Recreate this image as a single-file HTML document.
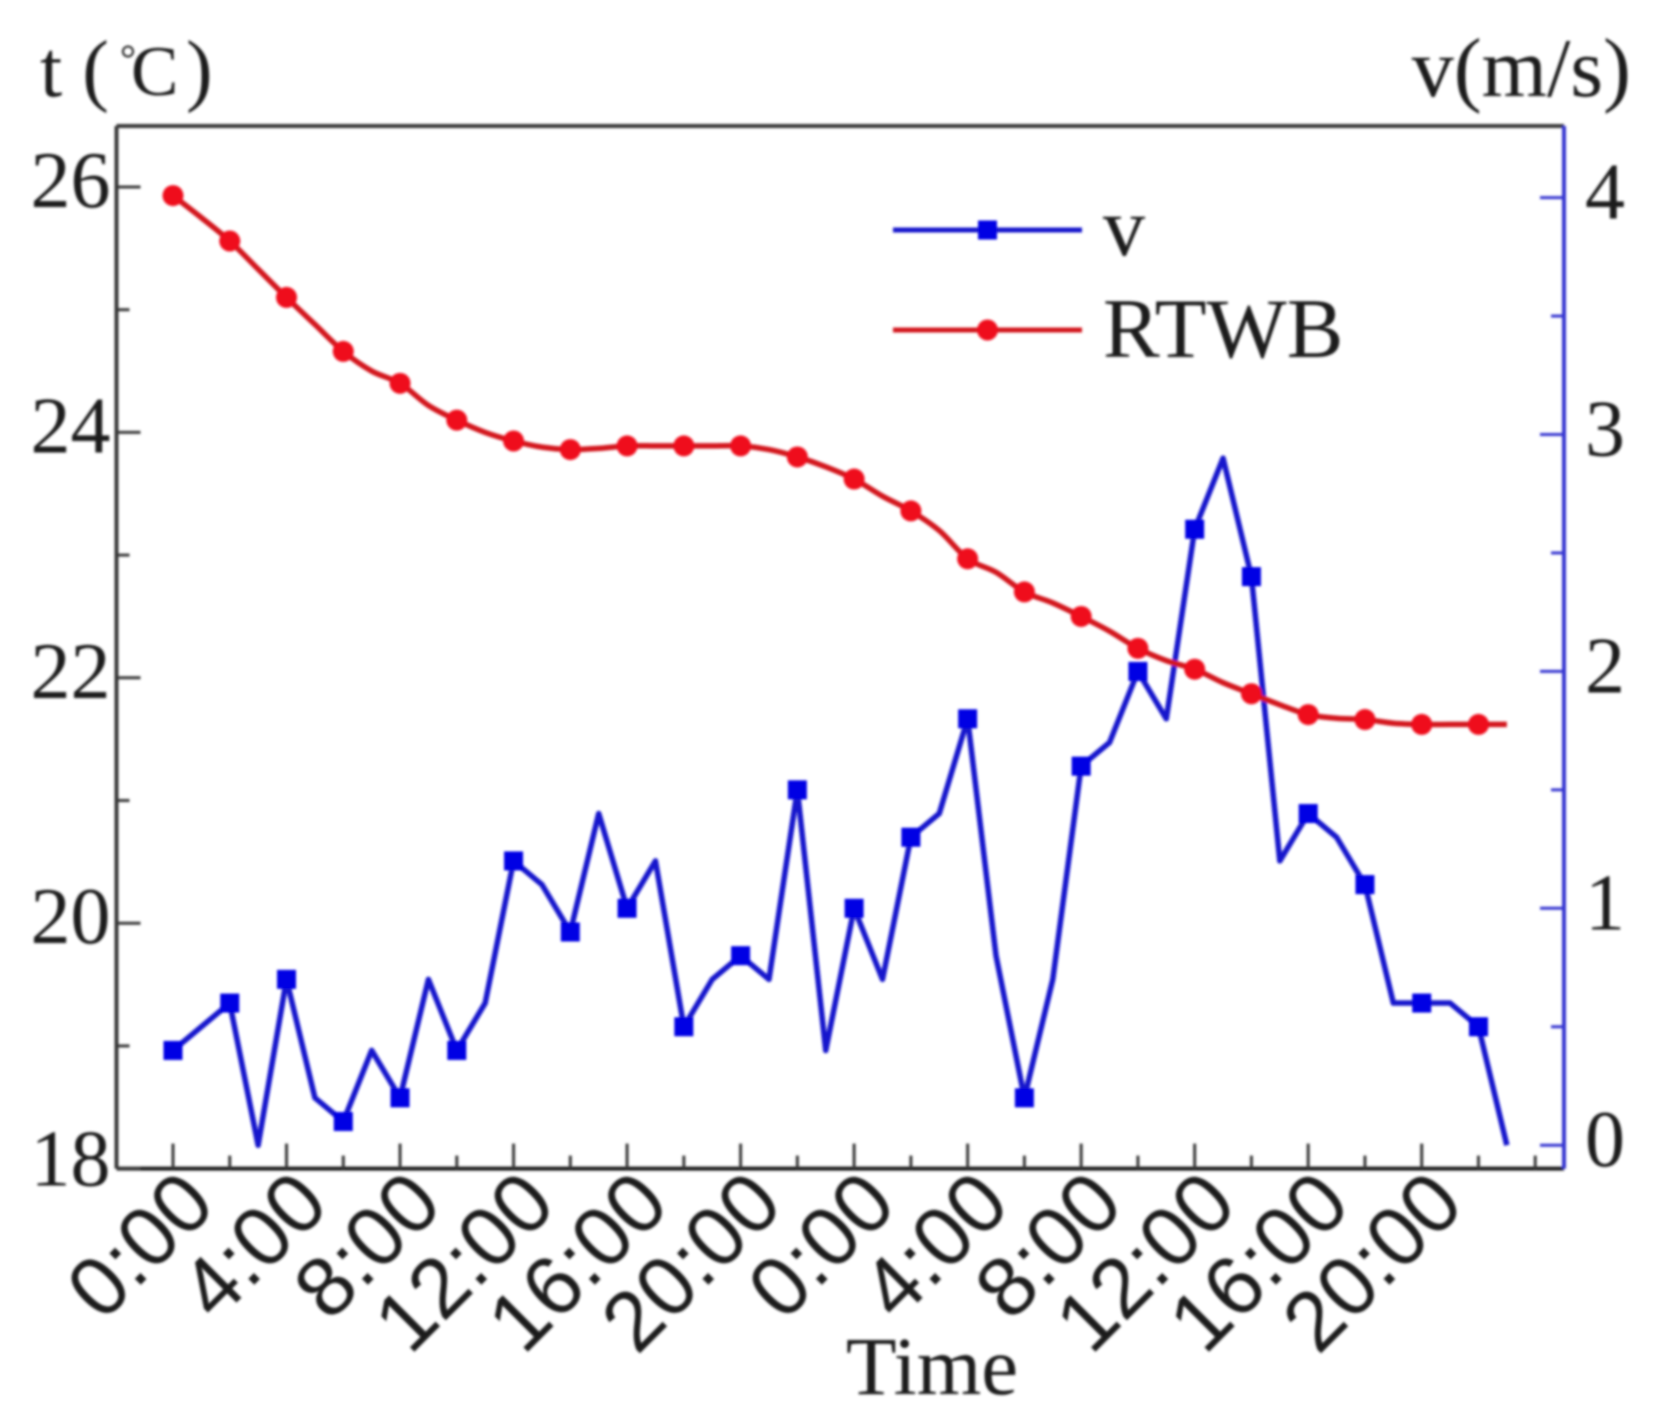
<!DOCTYPE html>
<html lang="en">
<head>
<meta charset="utf-8">
<title>RTWB and v over time</title>
<style>
html,body{margin:0;padding:0;background:#fff;}
svg{display:block;}
text{font-family:"Liberation Serif","Noto Serif CJK SC",serif;fill:#1c1c1c;}
.sans{font-family:"Liberation Sans",sans-serif;}
</style>
</head>
<body>
<svg id="chart" xmlns="http://www.w3.org/2000/svg" width="1665" height="1420" viewBox="0 0 1665 1420">
  <defs><filter id="soft" x="-2%" y="-2%" width="104%" height="104%"><feGaussianBlur stdDeviation="1.3"/></filter></defs>
  <g id="root" filter="url(#soft)"></g>
</svg>
<script>
const hours = [0,1,2,3,4,5,6,7,8,9,10,11,12,13,14,15,16,17,18,19,20,21,22,23,24,25,26,27,28,29,30,31,32,33,34,35,36,37,38,39,40,41,42,43,44,45,46,47];
const windSpeed = [0.4,0.5,0.6,0,0.7,0.2,0.1,0.4,0.2,0.7,0.4,0.6,1.2,1.1,0.9,1.4,1.0,1.2,0.5,0.7,0.8,0.7,1.5,0.4,1.0,0.7,1.3,1.4,1.8,0.8,0.2,0.7,1.6,1.7,2.0,1.8,2.6,2.9,2.4,1.2,1.4,1.3,1.1,0.6,0.6,0.6,0.5,0];
const rtwb = [25.93,25.75,25.56,25.33,25.10,24.88,24.66,24.50,24.40,24.22,24.10,24.00,23.93,23.88,23.86,23.87,23.89,23.89,23.89,23.89,23.89,23.86,23.80,23.72,23.62,23.48,23.36,23.20,22.97,22.86,22.70,22.61,22.50,22.38,22.24,22.14,22.07,21.96,21.87,21.78,21.70,21.67,21.66,21.63,21.62,21.62,21.62,21.62];
const xTickLabels = ["0:00","4:00","8:00","12:00","16:00","20:00","0:00","4:00","8:00","12:00","16:00","20:00"];
const leftTicks = ["18","20","22","24","26"];
const rightTicks = ["0","1","2","3","4"];

const plot = {l:116.5, r:1564, t:126, b:1168.6};
const NS = "http://www.w3.org/2000/svg";
const root = document.getElementById("root");
const xScale = h => 173 + h * 28.38;
const yLeft = t => 187 + (26 - t) * 122.7;
const yRight = v => 1145.2 - v * 236.9;

function make(tag, attrs, text){
  const el = document.createElementNS(NS, tag);
  for (const k in attrs) el.setAttribute(k, attrs[k]);
  if (text !== undefined) el.textContent = text;
  root.appendChild(el);
  return el;
}

const AXIS = "#383838", RAXIS = "#3434d0", BLUE = "#1212cc", RED = "#ef0f1e";

/* frame */
let el = make("line",{x1:plot.l,y1:plot.t,x2:plot.r,y2:plot.t,stroke:AXIS,"stroke-width":4});


el = make("line",{x1:plot.l,y1:plot.t,x2:plot.l,y2:plot.b,stroke:AXIS,"stroke-width":4});


el = make("line",{x1:plot.l,y1:plot.b,x2:plot.r,y2:plot.b,stroke:"#1c1c1c","stroke-width":4});


el = make("line",{x1:plot.r,y1:plot.t,x2:plot.r,y2:plot.b,stroke:RAXIS,"stroke-width":4});



/* x ticks: one every two hours, labelled every four */
for (let h = 0; h <= 48; h += 2) {
  const major = h % 4 === 0 && h / 4 < xTickLabels.length;
  const x = xScale(h);
  const t = make("line",{x1:x,y1:plot.b,x2:x,y2:plot.b-(major?25:13),stroke:AXIS,"stroke-width":3});
  
  
  if (major) {
    const lx = x + 45, ly = plot.b + 39;
    const lab = make("text",{x:lx,y:ly,"font-size":84,"text-anchor":"end","class":"sans",transform:"rotate(-45 "+lx+" "+ly+")"},xTickLabels[h/4]);
    
    
  }
}

/* left axis */
leftTicks.forEach(s => {
  const v = +s, y = yLeft(v);
  const t = make("line",{x1:plot.l,y1:y,x2:plot.l+24,y2:y,stroke:AXIS,"stroke-width":3});
  
  
  if (v < 26) {
    const m = make("line",{x1:plot.l,y1:yLeft(v+1),x2:plot.l+13,y2:yLeft(v+1),stroke:AXIS,"stroke-width":3});
    
    
  }
  const lab = make("text",{x:plot.l-6,y:y+(v===18?17:20),"font-size":80,"text-anchor":"end"},s);
  
  
});

/* right axis */
rightTicks.forEach(s => {
  const v = +s, y = yRight(v);
  const t = make("line",{x1:plot.r,y1:y,x2:plot.r-24,y2:y,stroke:RAXIS,"stroke-width":3});
  
  
  if (v < 4) {
    const m = make("line",{x1:plot.r,y1:yRight(v+0.5),x2:plot.r-13,y2:yRight(v+0.5),stroke:RAXIS,"stroke-width":3});
    
    
  }
  const lab = make("text",{x:plot.r+21,y:y+21,"font-size":80},s);
  
  
});

/* titles */
el = make("text",{x:40,y:96,"font-size":80},"t (");


el = make("text",{x:120,y:72,"font-size":40},"°");


el = make("text",{x:131,y:95,"font-size":71},"C");


el = make("text",{x:186,y:96,"font-size":80},")");


el = make("text",{x:1631,y:96,"font-size":84,"text-anchor":"end"},"v(m/s)");


el = make("text",{x:932,y:1394,"font-size":83,"text-anchor":"middle"},"Time");



/* series */
const bluePts = hours.map((h,i) => [xScale(h), yRight(windSpeed[i])]);
el = make("polyline",{points:bluePts.map(p=>p.join(",")).join(" "),fill:"none",stroke:BLUE,"stroke-width":5.5,"stroke-linejoin":"round"});


bluePts.forEach((p,i) => {
  if (hours[i] % 2) return;
  const m = make("rect",{x:p[0]-9.5,y:p[1]-9.5,width:19,height:19,fill:"#0606e4"});
  
  
});

const redPts = hours.map((h,i) => [xScale(h), yLeft(rtwb[i])]);
let d = "M" + redPts[0].join(",");
for (let i = 0; i < redPts.length - 1; i++) {
  const p0 = redPts[Math.max(i-1,0)], p1 = redPts[i], p2 = redPts[i+1], p3 = redPts[Math.min(i+2,redPts.length-1)];
  d += " C" + (p1[0]+(p2[0]-p0[0])/6) + "," + (p1[1]+(p2[1]-p0[1])/6) + " " + (p2[0]-(p3[0]-p1[0])/6) + "," + (p2[1]-(p3[1]-p1[1])/6) + " " + p2[0] + "," + p2[1];
}
el = make("path",{d:d,fill:"none",stroke:"#d3121f","stroke-width":5.5});


redPts.forEach((p,i) => {
  if (hours[i] % 2) return;
  const m = make("circle",{cx:p[0],cy:p[1],r:10.5,fill:RED});
  
  
});

/* legend */
el = make("line",{x1:893,y1:230,x2:1082,y2:230,stroke:BLUE,"stroke-width":5});


el = make("rect",{x:978,y:220.5,width:19,height:19,fill:"#0606e4"});


el = make("text",{x:1103,y:255,"font-size":84},"v");


el = make("line",{x1:893,y1:330,x2:1082,y2:330,stroke:"#d3121f","stroke-width":5});


el = make("circle",{cx:987.5,cy:330,r:10.5,fill:RED});


el = make("text",{x:1103,y:357,"font-size":85},"RTWB");


</script>
</body>
</html>
